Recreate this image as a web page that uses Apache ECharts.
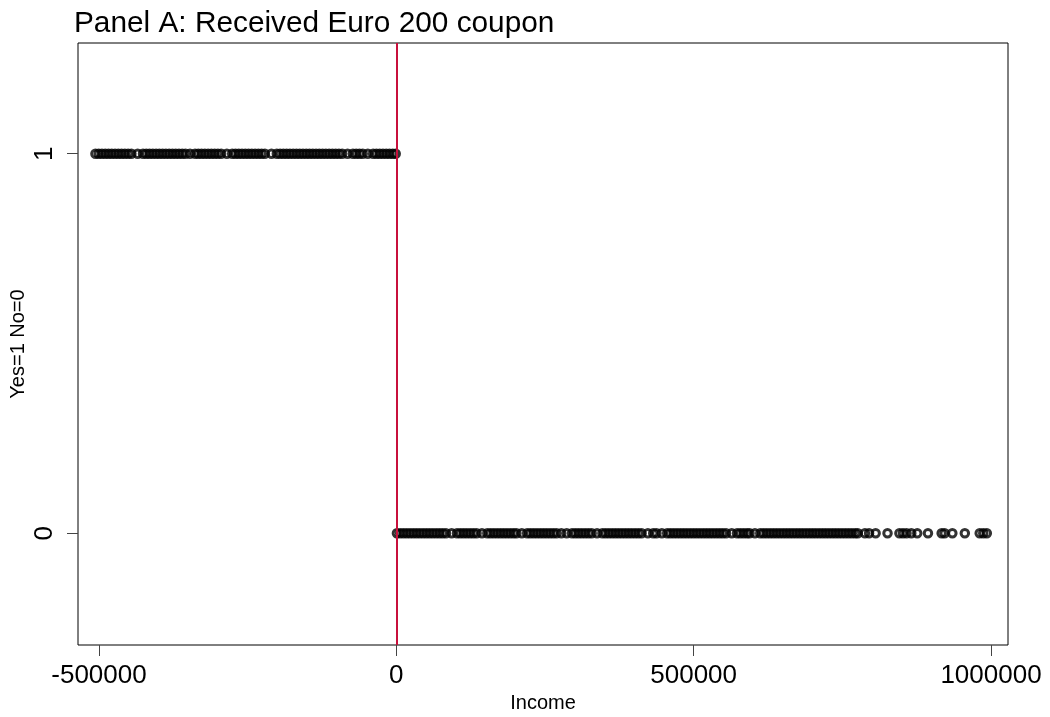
<!DOCTYPE html>
<html>
<head>
<meta charset="utf-8">
<title>Panel A: Received Euro 200 coupon</title>
<script src="https://cdn.jsdelivr.net/npm/echarts@6/dist/echarts.min.js"></script>
<style>
  html, body { margin: 0; padding: 0; background: #fff; }
  #main { width: 1050px; height: 717px; }
</style>
</head>
<body>
<div id="main"></div>
<script>
// income of households that received the coupon (Yes = 1)
var yesIncome = [
  -506000, -500500, -495000, -489500, -484000, -478500, -473000, -467500, -462000, -456500,
  -451000, -445500, -435000, -426000, -420500, -415000, -409500, -404000, -398500, -393000,
  -387500, -382000, -376500, -371000, -365500, -360000, -354500, -347000, -338500, -333000,
  -327500, -322000, -316500, -311000, -305500, -300000, -294500, -285000, -276000, -270500,
  -265000, -259500, -254000, -248500, -243000, -237500, -232000, -226500, -221000, -210000,
  -201000, -195500, -190000, -184500, -179000, -173500, -168000, -162500, -157000, -151500,
  -146000, -140500, -135000, -129500, -124000, -118500, -113000, -107500, -102000, -96500,
  -91000, -82000, -73000, -67500, -62000, -56500, -48000, -39000, -33500, -28000,
  -22500, -17000, -11500, -6000, -1000
];
// income of households that did not receive it (No = 0)
var noIncome = [
  1000, 6500, 12000, 17500, 23000, 28500, 34000, 39500, 45000, 50500,
  56000, 61500, 67000, 72500, 78000, 83500, 93000, 102000, 107500, 113000,
  118500, 124000, 129500, 135000, 144000, 153000, 158500, 164000, 169500, 175000,
  180500, 186000, 191500, 197000, 202000, 211000, 220000, 225500, 231000, 236500,
  242000, 247500, 253000, 258500, 264000, 269500, 277500, 286500, 295500, 301000,
  306500, 312000, 317500, 323000, 328500, 337500, 346500, 352000, 357500, 363000,
  368500, 374000, 379500, 385000, 390500, 396000, 401500, 407000, 412500, 423000,
  432000, 437500, 446500, 455500, 461000, 466500, 472000, 477500, 483000, 488500,
  494000, 499500, 505000, 510500, 516000, 521500, 527000, 532500, 538000, 543500,
  549000, 554500, 564000, 573000, 578500, 584000, 589500, 594000, 603000, 612000,
  617500, 623000, 628500, 634000, 639500, 645000, 650500, 656000, 661500, 667000,
  672500, 678000, 683500, 689000, 694500, 700000, 705500, 711000, 716500, 722000,
  727500, 733000, 738500, 744000, 749500, 755000, 760500, 766000, 771500, 776000,
  788000, 795000, 806000, 826000, 846000, 852000, 858000, 866000, 876000, 894000,
  917000, 922000, 935000, 956000, 981000, 987000, 993000
];
var xTicks = [-500000, 0, 500000, 1000000];
var yTicks = [0, 1];
var cutoff = 0;

var myChart = echarts.init(document.getElementById('main'));

var fontFamily = 'Liberation Sans, Arial, sans-serif';
// hollow rings, like R's pch = 1
var markerStyle = {
  color: 'rgba(0,0,0,0)',
  borderColor: '#000',
  borderWidth: 3
};

var option = {
  animation: false,
  backgroundColor: '#fff',
  title: {
    text: 'Panel A: Received Euro 200 coupon',
    left: 69,
    top: 4,
    textStyle: {
      fontFamily: fontFamily,
      fontWeight: 'normal',
      fontSize: 29.8,
      color: '#000'
    }
  },
  grid: {
    left: 78,
    right: 42,
    top: 43,
    bottom: 72,
    outerBoundsMode: 'none',
    containLabel: false,
    show: true,
    borderColor: '#000',
    borderWidth: 1
  },
  xAxis: {
    type: 'value',
    min: -535300,
    max: 1028600,
    name: 'Income',
    nameLocation: 'middle',
    nameGap: 48,
    nameMoveOverlap: false,
    nameTextStyle: { fontFamily: fontFamily, fontSize: 20, color: '#000' },
    splitLine: { show: false },
    axisLine: { show: false, onZero: false },
    axisTick: {
      show: true,
      length: 11,
      customValues: xTicks,
      lineStyle: { color: '#444' }
    },
    axisLabel: {
      customValues: xTicks,
      margin: 18,
      fontFamily: fontFamily,
      fontSize: 26,
      color: '#000',
      formatter: function (v) { return String(v); }
    }
  },
  yAxis: {
    type: 'value',
    min: -0.2943,
    max: 1.2916,
    name: 'Yes=1 No=0',
    nameLocation: 'middle',
    nameGap: 50,
    nameMoveOverlap: false,
    nameTextStyle: { fontFamily: fontFamily, fontSize: 20, color: '#000' },
    splitLine: { show: false },
    axisLine: { show: false, onZero: false },
    axisTick: {
      show: true,
      length: 11,
      customValues: yTicks,
      lineStyle: { color: '#444' }
    },
    axisLabel: {
      customValues: yTicks,
      rotate: 90,
      margin: 20,
      fontFamily: fontFamily,
      fontSize: 26,
      color: '#000',
      formatter: function (v) { return String(v); }
    }
  },
  series: [
    {
      name: 'Yes',
      type: 'scatter',
      symbol: 'circle',
      symbolSize: 7.5,
      silent: true,
      itemStyle: markerStyle,
      data: yesIncome.map(function (v) { return [v, 1]; })
    },
    {
      name: 'No',
      type: 'scatter',
      symbol: 'circle',
      symbolSize: 7.5,
      silent: true,
      itemStyle: markerStyle,
      data: noIncome.map(function (v) { return [v, 0]; }),
      markLine: {
        silent: true,
        symbol: 'none',
        label: { show: false },
        lineStyle: { color: '#c8103c', width: 2, type: 'solid' },
        data: [{ xAxis: cutoff }]
      }
    }
  ]
};

myChart.setOption(option);
</script>
</body>
</html>
